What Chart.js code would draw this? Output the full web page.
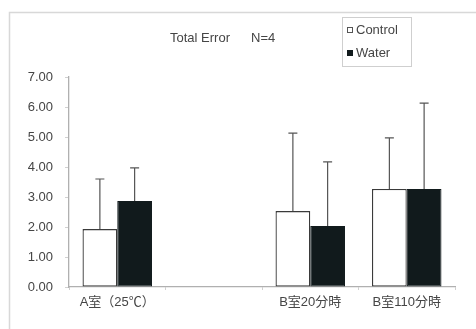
<!DOCTYPE html>
<html>
<head>
<meta charset="utf-8">
<script src="https://cdn.jsdelivr.net/npm/chart.js@4/dist/chart.umd.min.js"></script>
<style>
  html, body { margin: 0; padding: 0; background: #fff; }
  #wrap { width: 476px; height: 329px; }
</style>
</head>
<body>
<div id="wrap"><canvas id="c" width="476" height="329"></canvas></div>
<script>
// Rooms / time points (second slot is intentionally blank spacing)
const categories = ['A室（25℃）', '', 'B室20分時', 'B室110分時'];
const controlMean = [1.93, null, 2.53, 3.27];
const controlSD   = [1.67, null, 2.60, 1.70];
const waterMean   = [2.87, null, 2.03, 3.27];
const waterSD     = [1.10, null, 2.14, 2.86];
const yTicks = [0, 1, 2, 3, 4, 5, 6, 7];

const FONT = "'Liberation Sans', Arial, 'Noto Sans CJK JP', sans-serif";
const TEXT = '#454545';

// Upward-only error whiskers with caps
const errorBars = {
  id: 'errorBars',
  afterDatasetsDraw(chart) {
    const ctx = chart.ctx;
    const y = chart.scales.y;
    chart.data.datasets.forEach((ds, i) => {
      const meta = chart.getDatasetMeta(i);
      meta.data.forEach((bar, j) => {
        const m = ds.data[j], sd = ds.sd[j];
        if (m == null || sd == null) return;
        const top = y.getPixelForValue(m + sd);
        const x = bar.x;
        ctx.save();
        ctx.strokeStyle = '#555';
        ctx.lineWidth = 1.2;
        ctx.beginPath();
        ctx.moveTo(x, bar.y);
        ctx.lineTo(x, top);
        ctx.moveTo(x - 4.5, top);
        ctx.lineTo(x + 4.5, top);
        ctx.stroke();
        ctx.restore();
      });
    });
  }
};

// Outer frame, heading and boxed legend
const decorations = {
  id: 'decorations',
  beforeDraw(chart) {
    const ctx = chart.ctx;
    ctx.save();
    ctx.fillStyle = '#fff';
    ctx.fillRect(0, 0, chart.width, chart.height);
    ctx.strokeStyle = '#d8d8d8';
    ctx.lineWidth = 1.5;
    ctx.beginPath();
    ctx.moveTo(9.5, chart.height);
    ctx.lineTo(9.5, 12.5);
    ctx.lineTo(chart.width, 12.5);
    ctx.stroke();
    ctx.restore();
  },
  afterDraw(chart) {
    const ctx = chart.ctx;
    ctx.save();
    ctx.font = '13px ' + FONT;
    ctx.fillStyle = TEXT;
    ctx.textBaseline = 'middle';
    ctx.textAlign = 'left';
    ctx.fillText('Total Error', 170, 38);
    ctx.fillText('N=4', 251, 38);

    // legend box
    ctx.strokeStyle = '#cfcfcf';
    ctx.lineWidth = 1;
    ctx.fillStyle = '#fff';
    ctx.fillRect(342.5, 17.5, 69, 49);
    ctx.strokeRect(342.5, 17.5, 69, 49);
    const rows = [30, 53];
    chart.data.datasets.forEach((ds, i) => {
      const yy = rows[i];
      if (i === 0) {
        ctx.strokeStyle = '#555';
        ctx.fillStyle = '#fff';
        ctx.fillRect(347.5, yy - 2.5, 5, 5);
        ctx.strokeRect(347.5, yy - 2.5, 5, 5);
      } else {
        ctx.fillStyle = '#111a1c';
        ctx.fillRect(347, yy - 3, 6, 6);
      }
      ctx.fillStyle = TEXT;
      ctx.fillText(ds.label, 356, yy);
    });
    ctx.restore();
  }
};

new Chart(document.getElementById('c'), {
  type: 'bar',
  data: {
    labels: categories,
    datasets: [
      {
        label: 'Control',
        data: controlMean,
        sd: controlSD,
        backgroundColor: '#ffffff',
        borderColor: '#3a3a3a',
        borderWidth: 1.3,
        borderSkipped: false
      },
      {
        label: 'Water',
        data: waterMean,
        sd: waterSD,
        backgroundColor: '#111a1c',
        borderColor: '#111a1c',
        borderWidth: 1,
        borderSkipped: false
      }
    ]
  },
  options: {
    responsive: false,
    animation: false,
    devicePixelRatio: 1,
    layout: { padding: { top: 77, right: 21, left: 0, bottom: 0 } },
    plugins: {
      legend: { display: false },
      title: { display: false },
      tooltip: { enabled: false }
    },
    datasets: { bar: { barPercentage: 1.0, categoryPercentage: 0.72 } },
    scales: {
      x: {
        grid: { display: true, drawOnChartArea: false, offset: true, tickLength: 3, color: '#d0d0d0' },
        border: { color: '#b0b0b0', width: 1.3 },
        ticks: { color: TEXT, font: { size: 13, family: FONT }, padding: 5, maxRotation: 0, autoSkip: false },
        afterFit(scale) { scale.height = 42; }
      },
      y: {
        min: 0,
        max: 7,
        afterBuildTicks(scale) { scale.ticks = yTicks.map(v => ({ value: v })); },
        grid: { display: true, drawOnChartArea: false, tickLength: 4, color: '#d0d0d0' },
        border: { color: '#b0b0b0', width: 1.3 },
        ticks: {
          color: TEXT,
          font: { size: 13, family: FONT },
          padding: 12,
          callback: v => Number(v).toFixed(2)
        },
        afterFit(scale) { scale.width = 69; }
      }
    }
  },
  plugins: [decorations, errorBars]
});
</script>
</body>
</html>
